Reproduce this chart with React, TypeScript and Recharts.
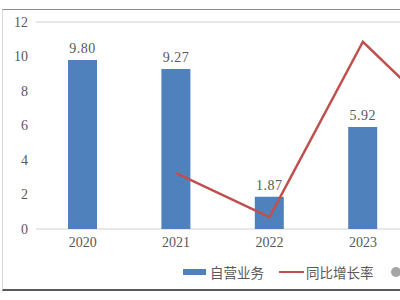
import React from 'react';
import { ComposedChart, Bar, Line, XAxis, YAxis, CartesianGrid, LabelList } from 'recharts';

// values; 2024 is cut off at the right edge
const years = ['2020', '2021', '2022', '2023', '2024'];
const selfOperated = [9.8, 9.27, 1.87, 5.92, 9.71];
const yoyGrowth: (number | null)[] = [null, -5.4, -79.8, 216.6, 64];
const leftTicks = [0, 2, 4, 6, 8, 10, 12];
const rightTicks = [-100, -50, 0, 50, 100, 150, 200, 250];

const data = years.map((year, i) => ({
  year,
  自营业务: selfOperated[i],
  同比增长率: yoyGrowth[i],
}));

const numFont = '"Liberation Serif", serif';
const cjkFont = '"Noto Sans CJK SC", sans-serif';
const textColor = '#595959';

const App: React.FC = () => {
  return (
    <div
      style={{
        position: 'absolute',
        left: 0,
        top: 0,
        width: 400,
        height: 300,
        overflow: 'hidden',
        background: '#fff',
      }}
    >
      <div
        style={{
          position: 'absolute',
          left: 2,
          top: 9,
          width: 560,
          height: 279,
          borderTop: '1px solid #8c8c8c',
          borderLeft: '1px solid #d9d9d9',
          borderBottom: '2px solid #595959',
        }}
      >
        <ComposedChart
          width={540}
          height={279}
          data={data}
          margin={{ top: 12, right: 40, left: 0, bottom: 30 }}
        >
          <CartesianGrid vertical={false} stroke="#e0e0e0" strokeWidth={1.5} />
          <XAxis
            dataKey="year"
            axisLine={false}
            tickLine={false}
            height={30}
            tick={{ fill: textColor, fontSize: 14, fontFamily: numFont }}
          />
          <YAxis
            yAxisId="left"
            domain={[0, 12]}
            ticks={leftTicks}
            width={33}
            axisLine={false}
            tickLine={false}
            tick={{ fill: textColor, fontSize: 14, fontFamily: numFont }}
          />
          <YAxis yAxisId="right" orientation="right" domain={[-100, 250]} ticks={rightTicks} hide />
          <Bar yAxisId="left" dataKey="自营业务" fill="#4f81bd" barSize={29} isAnimationActive={false}>
            <LabelList
              dataKey="自营业务"
              position="top"
              offset={7}
              formatter={(v: any) => Number(v).toFixed(2)}
              style={{ fill: textColor, fontSize: 14, fontFamily: numFont, letterSpacing: 0.5 }}
            />
          </Bar>
          <Line
            yAxisId="right"
            dataKey="同比增长率"
            stroke="#c0504d"
            strokeWidth={2.5}
            dot={false}
            activeDot={false}
            isAnimationActive={false}
          />
        </ComposedChart>
      </div>
      {/* legend */}
      <div
        style={{
          position: 'absolute',
          left: 183,
          top: 262,
          display: 'flex',
          alignItems: 'center',
          whiteSpace: 'nowrap',
          fontFamily: cjkFont,
          fontSize: 13.5,
          color: textColor,
        }}
      >
        <span style={{ width: 23, height: 6, background: '#4f81bd', marginRight: 4 }} />
        <span>自营业务</span>
        <span style={{ width: 25, height: 2.5, background: '#c0504d', marginLeft: 15, marginRight: 2 }} />
        <span>同比增长率</span>
        <span
          style={{
            width: 10,
            height: 10,
            borderRadius: 5,
            background: '#a5a5a5',
            marginLeft: 17,
          }}
        />
      </div>
    </div>
  );
};

export default App;
